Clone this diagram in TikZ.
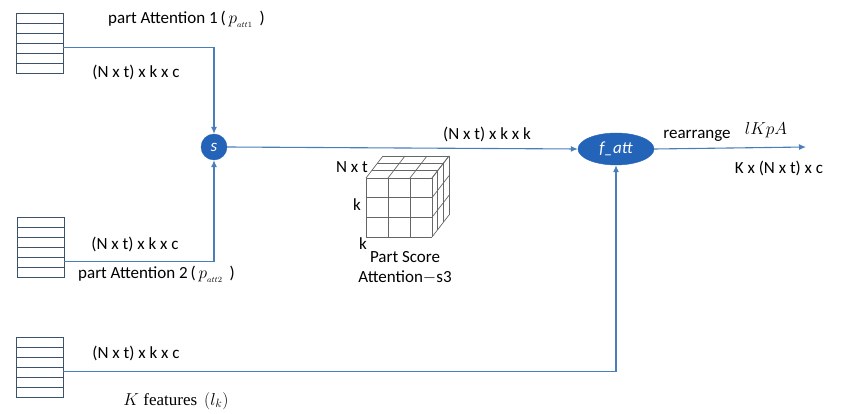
\documentclass[tikz,border=0pt]{standalone}
\usepackage{fontspec}
\setmainfont{Carlito}
\newfontfamily\serifface{Liberation Serif}
\usetikzlibrary{arrows.meta,calc,shapes.geometric}
\definecolor{linec}{RGB}{74,126,187}
\definecolor{nodefill}{RGB}{36,100,184}
\definecolor{stackc}{RGB}{60,82,104}
\begin{document}
\begin{tikzpicture}[x=1pt,y=-1pt,
  every node/.style={font=\fontsize{17}{20}\selectfont, inner sep=0pt},
  stackbox/.style={draw=stackc, line width=0.9pt, minimum width=47pt, minimum height=60pt,
    path picture={\foreach \i in {1,...,5}{\draw[stackc, line width=0.9pt]
      ($(path picture bounding box.north west)!\i/6!(path picture bounding box.south west)$) --
      ($(path picture bounding box.north east)!\i/6!(path picture bounding box.south east)$);}}},
  conn/.style={draw=linec, line width=1.1pt},
  arr/.style={conn, -{Latex[length=7pt,width=6pt]}},
  bluenode/.style={fill=nodefill, draw=nodefill, text=white, font=\fontsize{17}{20}\selectfont\itshape},
  cubeline/.style={draw=black!60, line width=0.7pt}]
\useasboundingbox (0,0) rectangle (845,414);

% stacks
\node[stackbox] (st1) at (39.5,43) {};
\node[stackbox] (st2) at (40.5,247.5) {};
\node[stackbox] (st3) at (39.5,367) {};

% operator nodes
\node[bluenode, circle, minimum size=26pt] (s) at (214,147) {s};
\node[bluenode, ellipse, minimum width=76pt, minimum height=32pt] (fatt) at (616,149) {f\_att};
\coordinate (out) at (806,147);

% connectors
\coordinate (o1) at ($(st1.north east)!0.57!(st1.south east)$);
\coordinate (o2) at ($(st2.north east)!0.73!(st2.south east)$);
\coordinate (o3) at ($(st3.north east)!0.57!(st3.south east)$);
\draw[arr] (o1) -| (s.north);
\draw[arr] (o2) -| (s.south);
\draw[arr] (o3) -| (fatt.south);
\draw[arr] (s.east) -- (fatt.west);
\draw[arr] (fatt.east) -- (out);

% labels
\node[anchor=west] (att1) at (108,19) {part Attention 1\,(\,$p_{_{att1}}$\, )};
\node (l1) at (136,72) {(N x t) x k x c};
\node (l2) at (135,244) {(N x t) x k x c};
\node[anchor=west] (att2) at (78,274) {part Attention 2\,(\,$p_{_{att2}}$\, )};
\node (l3) at (136,353) {(N x t) x k x c};
\node (kf) at (176,401) {\serifface $K$ features\, $(l_k)$};
\node (l4) at (487,134) {(N x t) x k x k};
\node (re) at (697,136) {rearrange};
\node (lk) at (766,130) {\fontsize{19}{22}\selectfont$lKpA$};
\node (kx) at (779,168) {K x (N x t) x c};

% cube
\begin{scope}
\def\dx{17}\def\dy{-22}
\foreach \i in {0,1,2,3}{
  \draw[cubeline] (366+22*\i,178) -- (366+22*\i,237);
  \draw[cubeline] (366,178+19.67*\i) -- (432,178+19.67*\i);
  % top face
  \draw[cubeline] (366+22*\i,178) -- (366+22*\i+\dx,178+\dy);
  \draw[cubeline] (366+\dx*\i/3,178+\dy*\i/3) -- (432+\dx*\i/3,178+\dy*\i/3);
  % right face
  \draw[cubeline] (432,178+19.67*\i) -- (432+\dx,178+19.67*\i+\dy);
  \draw[cubeline] (432+\dx*\i/3,178+\dy*\i/3) -- (432+\dx*\i/3,237+\dy*\i/3);
}
\end{scope}
\node (cn) at (352,167) {N x t};
\node (ck1) at (357,205) {k};
\node (ck2) at (363,244) {k};
\node[align=center] (cap) at (405,268) {Part Score\\Attention$-$s3};
\end{tikzpicture}
\end{document}
